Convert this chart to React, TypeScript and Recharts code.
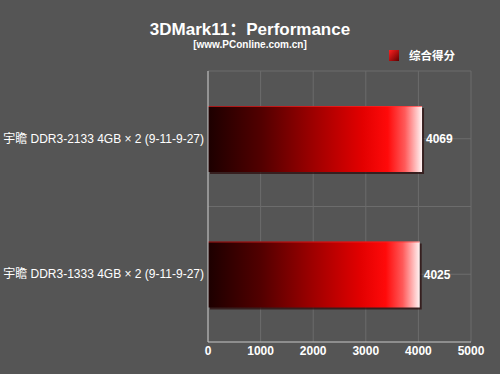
import { BarChart, Bar, XAxis, YAxis, CartesianGrid, LabelList } from 'recharts';

const categories = ['宇瞻 DDR3-2133 4GB × 2 (9-11-9-27)', '宇瞻 DDR3-1333 4GB × 2 (9-11-9-27)'];
const scores = [4069, 4025];
const xTicks = [0, 1000, 2000, 3000, 4000, 5000];
const seriesName = '综合得分';

const data = categories.map((name, i) => ({ name, score: scores[i] }));

const FONT = '"Liberation Sans", Arial, "Noto Sans CJK SC", sans-serif';

// bar with a little drop shadow behind it
const ShadowBar = (props: any) => {
  const { x, y, width, height } = props;
  if (!width || width <= 0) return null;
  return (
    <g>
      <rect x={x + 2} y={y + 2} width={width} height={height} fill="#2a0808" opacity={0.7} />
      <rect x={x} y={y} width={width} height={height} fill="url(#barFill)" />
      <line x1={x} x2={x + width} y1={y + 0.5} y2={y + 0.5} stroke="#ff2a2a" strokeOpacity={0.6} />
    </g>
  );
};

// single-line category label (the default tick wraps long text)
const CategoryTick = (props: any) => {
  const { x, y, payload } = props;
  return (
    <text x={x} y={y} dy="0.35em" textAnchor="end" fill="#ffffff" fontSize={12} fontFamily={FONT}>
      {payload.value}
    </text>
  );
};

export default function App() {
  return (
    <div style={{ position: 'fixed', left: 0, top: 0, width: 500, height: 374, background: '#555555' }}>
      <BarChart
        width={500}
        height={374}
        data={data}
        layout="vertical"
        margin={{ top: 71, right: 29, left: 0, bottom: 2 }}
        style={{ fontFamily: FONT }}
      >
        <defs>
          <linearGradient id="barFill" x1="0" y1="0" x2="1" y2="0">
            <stop offset="0%" stopColor="#1c0000" />
            <stop offset="25%" stopColor="#520000" />
            <stop offset="50%" stopColor="#a00000" />
            <stop offset="72%" stopColor="#e20000" />
            <stop offset="84%" stopColor="#ff0a0a" />
            <stop offset="92%" stopColor="#ff5a5a" />
            <stop offset="100%" stopColor="#fff4f4" />
          </linearGradient>
          <linearGradient id="legendFill" x1="0" y1="0" x2="1" y2="1">
            <stop offset="0%" stopColor="#ff2020" />
            <stop offset="100%" stopColor="#600000" />
          </linearGradient>
        </defs>
        <CartesianGrid
          stroke="#6c6c6c"
          horizontalCoordinatesGenerator={({ offset }: any) => {
            const t = offset.top;
            const h = offset.height;
            return [t, t + h / 4, t + h / 2, t + (3 * h) / 4];
          }}
        />
        <XAxis
          type="number"
          domain={[0, 5000]}
          ticks={xTicks}
          height={30}
          tickLine={false}
          tickSize={4}
          tickMargin={0}
          axisLine={{ stroke: '#c8c8c8' }}
          tick={{ fill: '#ffffff', fontSize: 12, fontWeight: 'bold', fontFamily: FONT }}
        />
        <YAxis
          type="category"
          dataKey="name"
          width={208}
          tickLine={false}
          tickSize={4}
          tickMargin={0}
          axisLine={{ stroke: '#c8c8c8' }}
          tick={CategoryTick}
        />
        <Bar dataKey="score" name={seriesName} barSize={66} shape={ShadowBar} isAnimationActive={false}>
          <LabelList dataKey="score" position="right" offset={4} fill="#ffffff" fontSize={12} fontWeight="bold" fontFamily={FONT} />
        </Bar>
        <text x={250} y={35} textAnchor="middle" fill="#ffffff" fontSize={17} fontWeight="bold" fontFamily={FONT}>
          3DMark11：Performance
        </text>
        <text x={250} y={48} textAnchor="middle" fill="#ffffff" fontSize={10} fontWeight="bold" fontFamily={FONT}>
          [www.PConline.com.cn]
        </text>
        <rect x={389} y={50} width={10} height={11} fill="url(#legendFill)" />
        <text x={409} y={60} fill="#ffffff" fontSize={11.5} fontWeight="bold" fontFamily={FONT}>
          {seriesName}
        </text>
      </BarChart>
    </div>
  );
}
